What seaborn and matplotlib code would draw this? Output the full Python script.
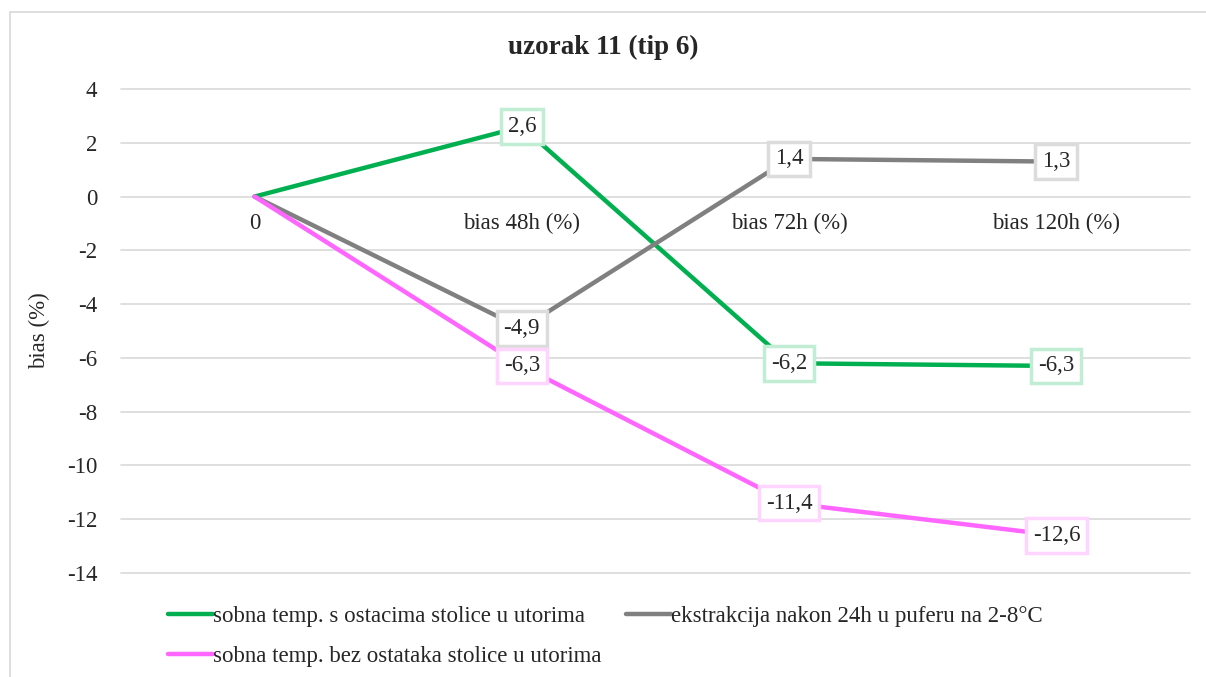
import matplotlib
matplotlib.use("Agg")
import matplotlib.pyplot as plt
import matplotlib.patches as mpatches
import pandas as pd
import seaborn as sns

categories = ["0", "bias 48h (%)", "bias 72h (%)", "bias 120h (%)"]
series_names = [
    "sobna temp. s ostacima stolice u utorima",
    "ekstrakcija nakon 24h u puferu na 2-8°C",
    "sobna temp. bez ostataka stolice u utorima",
]
green_vals = [0, 2.6, -6.2, -6.3]
gray_vals = [0, -4.9, 1.4, 1.3]
pink_vals = [0, -6.3, -11.4, -12.6]
y_ticks = [4, 2, 0, -2, -4, -6, -8, -10, -12, -14]

colors = ["#00B050", "#808080", "#FF66FF"]
glows = ["#C2EDD5", "#DCDCDC", "#FFD4FF"]
FS = 16.5

rows = []
for name, vals in zip(series_names, [green_vals, gray_vals, pink_vals]):
    for i, (cat, v) in enumerate(zip(categories, vals)):
        rows.append({"series": name, "cat": cat, "pos": i, "value": v})
df = pd.DataFrame(rows)

sns.set_style("white")
plt.rcParams["font.family"] = ["Liberation Serif", "DejaVu Serif"]

fig = plt.figure(figsize=(12.06, 6.77), dpi=100)
ax = fig.add_axes([121 / 1206, 1 - 573 / 677, (1190 - 121) / 1206, (573 - 89) / 677])

# gridlines first, so the -14 line is not clipped
for t in y_ticks:
    ax.axhline(t, color="#D9D9D9", linewidth=1.2, zorder=0, clip_on=False)

sns.lineplot(data=df, x="pos", y="value", hue="series", palette=colors,
             hue_order=series_names, linewidth=3.2, ax=ax, legend=False, sort=False)

ax.spines["bottom"].set_position(("data", 0))
for s in ax.spines.values():
    s.set_visible(False)
ax.grid(False)
ax.set_xlim(-0.5, 3.5)
ax.set_ylim(-14, 4)
ax.set_yticks(y_ticks)
ax.set_yticklabels([str(t) for t in y_ticks], fontsize=FS)
ax.set_xticks(range(len(categories)))
ax.set_xticklabels(categories, fontsize=FS)
ax.tick_params(axis="both", length=0)
ax.tick_params(axis="y", pad=17)
ax.tick_params(axis="x", pad=12)
ax.set_xlabel("")
ax.set_ylabel("bias (%)", fontsize=FS, labelpad=12)

for vals, glow in zip([green_vals, gray_vals, pink_vals], glows):
    for i, v in enumerate(vals):
        if i == 0:
            continue
        ax.text(i, v, f"{v:.1f}".replace(".", ","), ha="center", va="center",
                fontsize=FS, zorder=5,
                bbox=dict(boxstyle="square,pad=0.3", facecolor="white",
                          edgecolor=glow, linewidth=2.5))

handles = [plt.Line2D([], [], color=c, linewidth=3.2) for c in colors]
order = [0, 2, 1]
fig.legend([handles[i] for i in order], [series_names[i] for i in order],
           loc="upper left", bbox_to_anchor=(168 / 1206, 1 - 606 / 677),
           ncol=2, frameon=False, fontsize=FS, handlelength=1.95,
           handletextpad=0.0, columnspacing=1.1, labelspacing=0.82,
           borderaxespad=0, borderpad=0)

fig.text(0.5, 1 - 47 / 677, "uzorak 11 (tip 6)", ha="center", va="center",
         fontsize=19.5, fontweight="bold")

fig.patches.append(mpatches.Rectangle((10 / 1206, -0.01), 1.02, 1 - 12 / 677 + 0.01,
                                      transform=fig.transFigure, fill=False,
                                      edgecolor="#D9D9D9", linewidth=1.2))

fig.savefig("out.png", dpi=100)
